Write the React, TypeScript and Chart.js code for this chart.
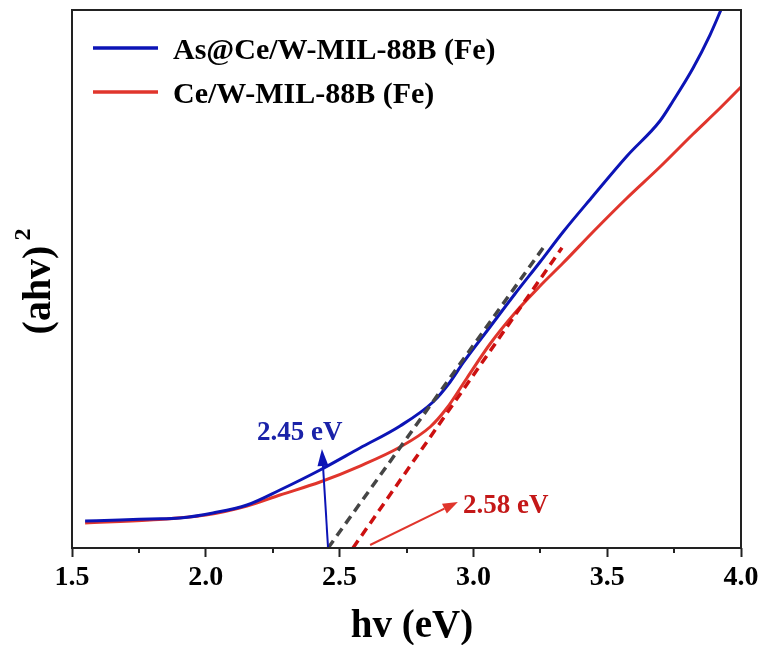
import React, { useEffect, useRef } from "react";
import { Chart, registerables } from "chart.js";

Chart.register(...registerables);

// ---- axis ticks & titles ----
const X_TICKS = [1.5, 2.0, 2.5, 3.0, 3.5, 4.0];
const X_MINOR_TICKS = [1.75, 2.25, 2.75, 3.25, 3.75];
const X_TITLE = "hv (eV)";
const Y_TITLE = "(ahv)";
const Y_TITLE_SUP = "2";

// ---- series ----
const SERIES_LABELS = ["As@Ce/W-MIL-88B (Fe)", "Ce/W-MIL-88B (Fe)"];

const AS_CE_HV = [1.549, 1.679, 1.791, 1.904, 2.027, 2.154, 2.277, 2.427, 2.576, 2.726, 2.849, 2.913, 2.961, 3.062, 3.155, 3.249, 3.335, 3.447, 3.574, 3.697, 3.746, 3.821, 3.884, 3.925];
const AS_CE_Y = [5.02, 5.2, 5.39, 5.58, 6.51, 7.99, 10.78, 14.5, 18.59, 22.68, 27.14, 30.86, 34.39, 41.08, 47.21, 53.16, 58.74, 65.43, 72.86, 79.37, 83.09, 89.22, 95.35, 100.0];

const CE_HV = [1.549, 1.791, 2.0, 2.154, 2.277, 2.427, 2.576, 2.726, 2.838, 2.901, 2.976, 3.062, 3.155, 3.249, 3.335, 3.454, 3.574, 3.697, 3.821, 3.922, 4.0];
const CE_Y = [4.65, 5.2, 6.13, 7.81, 9.85, 12.27, 15.24, 18.77, 22.49, 26.02, 31.6, 37.92, 43.68, 48.7, 52.97, 59.11, 65.06, 70.82, 76.95, 81.78, 85.69];

// Tauc fit lines (extrapolated to the axis)
const FIT_AS_HV = [2.457, 3.268];
const FIT_AS_Y = [0, 56.3];
const FIT_CE_HV = [2.55, 3.331];
const FIT_CE_Y = [0, 55.8];

// Band gap annotations (data units)
const GAP_LABELS = ["2.45 eV", "2.58 eV"];
const GAP_ARROW_FROM_HV = [2.457, 2.614];
const GAP_ARROW_FROM_Y = [0, 0.56];
const GAP_ARROW_TO_HV = [2.434, 2.942];
const GAP_ARROW_TO_Y = [18.4, 8.55];
const GAP_LABEL_HV = [2.191, 2.961];
const GAP_LABEL_Y = [20.07, 6.5];

const zip = (xs: number[], ys: number[]) => xs.map((x, i) => ({ x, y: ys[i] }));

const BLUE = "#0c14b6";
const RED = "#e0352c";
const RED_DASH = "#cc1010";
const GRAY_DASH = "#454545";
const LABEL_BLUE = "#1a22a8";
const LABEL_RED = "#c41818";
const FRAME = "#222222";
const SERIF = '"Liberation Serif", "Times New Roman", serif';

function drawArrow(
  ctx: CanvasRenderingContext2D,
  x1: number, y1: number, x2: number, y2: number,
  color: string, headLen: number, headHalf: number
) {
  const ang = Math.atan2(y2 - y1, x2 - x1);
  const bx = x2 - Math.cos(ang) * headLen;
  const by = y2 - Math.sin(ang) * headLen;
  ctx.save();
  ctx.strokeStyle = color;
  ctx.fillStyle = color;
  ctx.lineWidth = 2;
  ctx.beginPath();
  ctx.moveTo(x1, y1);
  ctx.lineTo(bx, by);
  ctx.stroke();
  ctx.beginPath();
  ctx.moveTo(x2, y2);
  ctx.lineTo(bx + Math.sin(ang) * headHalf, by - Math.cos(ang) * headHalf);
  ctx.lineTo(bx - Math.sin(ang) * headHalf, by + Math.cos(ang) * headHalf);
  ctx.closePath();
  ctx.fill();
  ctx.restore();
}

const decor = {
  id: "decor",
  afterDatasetsDraw(chart: any) {
    const ctx: CanvasRenderingContext2D = chart.ctx;
    const xs = chart.scales.x;
    const ys = chart.scales.y;
    const colors = [BLUE, RED];
    const labelColors = [LABEL_BLUE, LABEL_RED];
    const heads = [[17, 5.5], [15, 5.5]];
    for (let i = 0; i < GAP_LABELS.length; i++) {
      drawArrow(
        ctx,
        xs.getPixelForValue(GAP_ARROW_FROM_HV[i]), ys.getPixelForValue(GAP_ARROW_FROM_Y[i]),
        xs.getPixelForValue(GAP_ARROW_TO_HV[i]), ys.getPixelForValue(GAP_ARROW_TO_Y[i]),
        colors[i], heads[i][0], heads[i][1]
      );
      ctx.save();
      ctx.font = `bold 27px ${SERIF}`;
      ctx.fillStyle = labelColors[i];
      ctx.textAlign = "left";
      ctx.textBaseline = "alphabetic";
      ctx.fillText(GAP_LABELS[i], xs.getPixelForValue(GAP_LABEL_HV[i]), ys.getPixelForValue(GAP_LABEL_Y[i]));
      ctx.restore();
    }
  },
  afterDraw(chart: any) {
    const ctx: CanvasRenderingContext2D = chart.ctx;
    const a = chart.chartArea;
    const xs = chart.scales.x;
    ctx.save();
    // frame
    ctx.strokeStyle = FRAME;
    ctx.lineWidth = 2;
    ctx.strokeRect(a.left, a.top, a.right - a.left, a.bottom - a.top);
    // minor ticks
    ctx.beginPath();
    for (const v of X_MINOR_TICKS) {
      const px = Math.round(xs.getPixelForValue(v));
      ctx.moveTo(px, a.bottom);
      ctx.lineTo(px, a.bottom + 5);
    }
    ctx.stroke();
    // x title
    ctx.fillStyle = "#000";
    ctx.font = `bold 39px ${SERIF}`;
    ctx.textAlign = "center";
    ctx.textBaseline = "alphabetic";
    ctx.fillText(X_TITLE, 412, 637);
    // y title (rotated)
    ctx.save();
    ctx.translate(50, 290);
    ctx.rotate(-Math.PI / 2);
    ctx.font = `bold 40px ${SERIF}`;
    ctx.textAlign = "center";
    ctx.fillText(Y_TITLE, 0, 0);
    const w = ctx.measureText(Y_TITLE).width;
    ctx.font = `bold 24px ${SERIF}`;
    ctx.textAlign = "left";
    ctx.fillText(Y_TITLE_SUP, w / 2 + 5, -20);
    ctx.restore();
    // legend
    const legendDs = chart.data.datasets.filter((d: any) => SERIES_LABELS.includes(d.label));
    legendDs.forEach((d: any, i: number) => {
      const y = 48 + i * 44;
      ctx.strokeStyle = d.borderColor;
      ctx.lineWidth = 3.5;
      ctx.beginPath();
      ctx.moveTo(93, y);
      ctx.lineTo(158, y);
      ctx.stroke();
      ctx.fillStyle = "#000";
      ctx.font = `bold 30px ${SERIF}`;
      ctx.textAlign = "left";
      ctx.textBaseline = "alphabetic";
      ctx.fillText(d.label, 173, y + 10.5);
    });
    ctx.restore();
  },
};

export default function App() {
  const ref = useRef<HTMLCanvasElement>(null);
  useEffect(() => {
    const canvas = ref.current!;
    const chart = new Chart(canvas, {
      type: "line",
      data: {
        datasets: [
          {
            label: "fit-as",
            data: zip(FIT_AS_HV, FIT_AS_Y),
            borderColor: GRAY_DASH,
            borderWidth: 3.5,
            borderDash: [9, 6],
            pointRadius: 0,
            order: 0,
          },
          {
            label: "fit-ce",
            data: zip(FIT_CE_HV, FIT_CE_Y),
            borderColor: RED_DASH,
            borderWidth: 3.5,
            borderDash: [9, 6],
            pointRadius: 0,
            order: 0,
          },
          {
            label: SERIES_LABELS[0],
            data: zip(AS_CE_HV, AS_CE_Y),
            borderColor: BLUE,
            borderWidth: 3,
            pointRadius: 0,
            cubicInterpolationMode: "monotone",
            order: 1,
          },
          {
            label: SERIES_LABELS[1],
            data: zip(CE_HV, CE_Y),
            borderColor: RED,
            borderWidth: 3,
            pointRadius: 0,
            cubicInterpolationMode: "monotone",
            order: 2,
          },
        ],
      },
      options: {
        responsive: false,
        animation: false,
        devicePixelRatio: 1,
        layout: { padding: { top: 10, right: 25, left: 72, bottom: 0 } },
        plugins: { legend: { display: false }, tooltip: { enabled: false } },
        scales: {
          x: {
            type: "linear",
            min: 1.5,
            max: 4.0,
            afterBuildTicks: (s: any) => {
              s.ticks = X_TICKS.map((v) => ({ value: v }));
            },
            afterFit: (s: any) => {
              s.height = 97;
            },
            ticks: {
              autoSkip: false,
              maxRotation: 0,
              padding: 4,
              color: "#000",
              font: { family: SERIF, size: 28, weight: "bold" },
              callback: (v: any) => Number(v).toFixed(1),
            },
            grid: {
              display: true,
              drawOnChartArea: false,
              drawTicks: true,
              tickLength: 9,
              tickWidth: 2,
              tickColor: FRAME,
            },
            border: { display: false },
          },
          y: { type: "linear", min: 0, max: 100, display: false },
        },
      } as any,
      plugins: [decor],
    });
    return () => chart.destroy();
  }, []);
  return (
    <div style={{ position: "absolute", left: 0, top: 0, width: 766, height: 645, background: "#fff" }}>
      <canvas ref={ref} width={766} height={645} style={{ display: "block" }} />
    </div>
  );
}
